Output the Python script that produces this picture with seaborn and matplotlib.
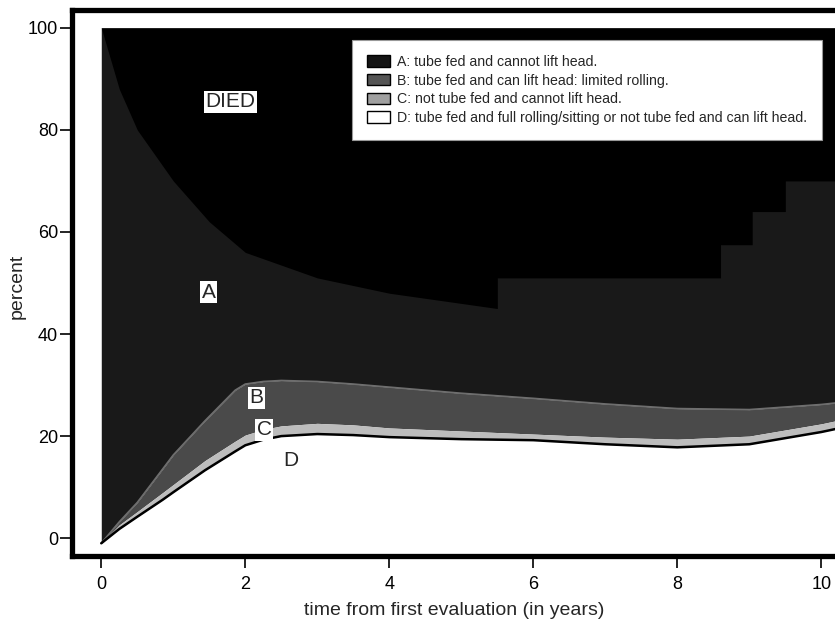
import numpy as np
import pandas as pd
import matplotlib
matplotlib.use("Agg")
import matplotlib.pyplot as plt
import seaborn as sns

# Cumulative boundaries of the stacked states (percent)
years = [0, 0.25, 0.5, 0.85, 1.0, 1.44, 1.86, 2.0, 2.25, 2.5, 3.0, 3.5, 4.0,
         5.0, 6.0, 7.0, 8.0, 9.0, 10.0, 10.2]
d_top = [-1, 1.8, 4.2, 7.5, 9.0, 13.3, 17.0, 18.2, 19.3, 20.0, 20.4, 20.2, 19.8,
         19.4, 19.2, 18.4, 17.8, 18.4, 20.8, 21.4]
c_top = [-1, 2.6, 5.2, 8.9, 10.5, 15.2, 19.0, 20.2, 21.3, 22.0, 22.5, 22.2, 21.6,
         21.0, 20.4, 19.8, 19.4, 20.0, 22.4, 23.0]
b_top = [-1, 3.2, 7.0, 13.5, 16.3, 23.0, 29.0, 30.2, 30.7, 30.9, 30.7, 30.2, 29.6,
         28.4, 27.4, 26.3, 25.4, 25.2, 26.2, 26.5]

# upper edge of state A (below the DIED band)
a_years = [0, 0.25, 0.5, 1.0, 1.5, 2.0, 3.0, 4.0, 5.0, 5.5, 5.5, 8.6, 8.6,
           9.04, 9.04, 9.5, 9.5, 10.2]
a_top = [100, 88, 80, 70, 62, 56, 51, 48, 46, 45, 51, 51, 57.5, 57.5,
         64, 64, 70, 70]

labels = ["A: tube fed and cannot lift head.",
          "B: tube fed and can lift head: limited rolling.",
          "C: not tube fed and cannot lift head.",
          "D: tube fed and full rolling/sitting or not tube fed and can lift head."]
x_ticks = [0, 2, 4, 6, 8, 10]
y_ticks = [0, 20, 40, 60, 80, 100]

sns.set_style("ticks")
plt.rcParams["font.family"] = ["Liberation Sans", "DejaVu Sans"]

fig = plt.figure(figsize=(8.35, 6.23), dpi=100)
ax = fig.add_axes([0.0868, 0.1075, 1 - 0.0868, 0.8765])
ax.set_facecolor("white")

col_died = "#000000"
col_a = "#191919"
col_b = "#4a4a4a"
col_c = "#bdbdbd"
col_d = "white"

df = pd.DataFrame({"years": years, "d_top": d_top, "c_top": c_top, "b_top": b_top})

ax.fill_between(years, b_top, 100, color=col_a, lw=0, zorder=1)
ax.fill_between(a_years, a_top, 100, color=col_died, lw=0, zorder=2)
ax.fill_between(years, c_top, b_top, color=col_b, lw=0, zorder=2)
ax.fill_between(years, d_top, c_top, color=col_c, lw=0, zorder=2)
sns.lineplot(data=df, x="years", y="b_top", color="#6e6e6e", lw=1.2, ax=ax, zorder=3)
sns.lineplot(data=df, x="years", y="d_top", color="black", lw=1.8, ax=ax, zorder=3)

# legend swatches
handles = [plt.Rectangle((0, 0), 1, 1, facecolor=c, edgecolor="black", lw=1)
           for c in ["#141414", "#555555", "#a0a0a0", col_d]]
leg = ax.legend(handles, labels, loc="upper left", bbox_to_anchor=(0.367, 0.945),
                borderaxespad=0, fontsize=10.2, frameon=True, fancybox=False,
                framealpha=1, edgecolor="#999999", handlelength=1.6,
                handleheight=0.85, handletextpad=0.5, labelspacing=0.33,
                borderpad=1.05)
leg.get_frame().set_linewidth(0.8)
leg.set_zorder(5)

box = dict(facecolor="white", edgecolor="none", pad=1.0)
ax.text(1.79, 85.5, "DIED", fontsize=15, ha="center", va="center", bbox=box, zorder=6)
ax.text(1.49, 48.2, "A", fontsize=15, ha="center", va="center", bbox=box, zorder=6)
ax.text(2.15, 27.5, "B", fontsize=15, ha="center", va="center", bbox=box, zorder=6)
ax.text(2.26, 21.2, "C", fontsize=15, ha="center", va="center", bbox=box, zorder=6)
ax.text(2.63, 15.3, "D", fontsize=15, ha="center", va="center", zorder=6)

ax.set_xlim(-0.4, 10.19)
ax.set_ylim(-3.5, 103.5)
ax.set_xticks(x_ticks)
ax.set_yticks(y_ticks)
ax.tick_params(axis="both", direction="out", length=8.5, width=1.2, color="black",
               labelsize=13, labelcolor="black")
ax.tick_params(axis="y", pad=2)
ax.tick_params(axis="x", pad=6)

for side in ["left", "top", "bottom"]:
    ax.spines[side].set_linewidth(3.8)
    ax.spines[side].set_color("black")
    ax.spines[side].set_zorder(7)
ax.spines["right"].set_visible(False)

ax.set_xlabel("time from first evaluation (in years)", fontsize=14)
ax.set_ylabel("percent", fontsize=14)
ax.xaxis.set_label_coords(0.5, -0.085)
ax.yaxis.set_label_coords(-0.062, 0.493)

fig.savefig("out.png", dpi=100)
